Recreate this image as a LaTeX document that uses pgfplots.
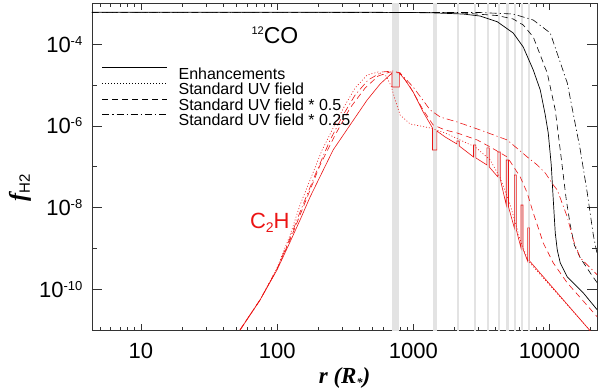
\documentclass[border=0pt]{standalone}
\usepackage{pgfplots}
\pgfplotsset{compat=1.18}
\usepackage{fontspec}
\setmainfont{Liberation Sans}
\newfontfamily\timesf{Liberation Serif}
\newcommand\ten[1]{10\raisebox{7pt}{\fontsize{13}{13}\selectfont #1}}
\definecolor{band}{gray}{0.89}
\definecolor{cred}{RGB}{235,20,20}
\pgfplotsset{
 lsolid/.style={solid},
 ldot/.style={dash pattern=on 1pt off 2pt},
 ldash/.style={dash pattern=on 6pt off 4pt},
 ldashdot/.style={dash pattern=on 7pt off 3pt on 1.2pt off 3pt},
}
\begin{document}
\begin{tikzpicture}
\begin{axis}[
 scale only axis, width=505pt, height=326.5pt,
 xmode=log, ymode=log,
 xmin=4.37, xmax=22300, ymin=1e-11, ymax=1e-3,
 xtick={10,100,1000,10000}, xticklabels={10,100,1000,10000},
 minor xtick={5,6,7,8,9,20,30,40,50,60,70,80,90,200,300,400,500,600,700,800,900,2000,3000,4000,5000,6000,7000,8000,9000,20000},
 ytick={1e-10,1e-8,1e-6,1e-4}, yticklabels={\ten{-10},\ten{-8},\ten{-6},\ten{-4}},
 minor ytick={1e-9,1e-7,1e-5},
 tick align=inside,
 major tick length=10pt, minor tick length=5pt,
 every major x tick/.append style={/pgfplots/major tick length=6.5pt},
 every minor x tick/.append style={/pgfplots/minor tick length=3.5pt},
 tick style={line width=0.6pt, black!80},
 axis line style={line width=0.6pt, black!80},
 xticklabel style={font=\fontsize{22}{22}\selectfont, inner sep=0pt, anchor=north, yshift=-12.5pt},
 yticklabel style={font=\fontsize{22}{22}\selectfont, inner sep=0pt, anchor=east, xshift=-9.5pt},
 legend image code/.code={\draw[#1] (0pt,5.5pt) -- (65pt,5.5pt);},
 legend style={at={(rel axis cs:0.0198,0.804)}, anchor=north west, draw=none, fill=none,
   inner sep=0pt, outer sep=0pt, font=\fontsize{16}{16}\selectfont, row sep=4pt,
   nodes={inner sep=0pt, text height=11.5pt, text depth=0pt},
   /tikz/every odd column/.append style={column sep=11pt}},
 legend cell align=left,
 clip mode=individual,
]
% grey bands
\addplot[fill=band, draw=none, forget plot] coordinates {(697,1e-12)(697,1e-2)(789,1e-2)(789,1e-12)};
\addplot[fill=band, draw=none, forget plot] coordinates {(1382,1e-12)(1382,1e-2)(1489,1e-2)(1489,1e-12)};
\addplot[fill=band, draw=none, forget plot] coordinates {(2089,1e-12)(2089,1e-2)(2172,1e-2)(2172,1e-12)};
\addplot[fill=band, draw=none, forget plot] coordinates {(2764,1e-12)(2764,1e-2)(2879,1e-2)(2879,1e-12)};
\addplot[fill=band, draw=none, forget plot] coordinates {(3469,1e-12)(3469,1e-2)(3606,1e-2)(3606,1e-12)};
\addplot[fill=band, draw=none, forget plot] coordinates {(4178,1e-12)(4178,1e-2)(4343,1e-2)(4343,1e-12)};
\addplot[fill=band, draw=none, forget plot] coordinates {(4807,1e-12)(4807,1e-2)(4997,1e-2)(4997,1e-12)};
\addplot[fill=band, draw=none, forget plot] coordinates {(5513,1e-12)(5513,1e-2)(5705,1e-2)(5705,1e-12)};
\addplot[fill=band, draw=none, forget plot] coordinates {(6166,1e-12)(6166,1e-2)(6380,1e-2)(6380,1e-12)};
\addplot[fill=band, draw=none, forget plot] coordinates {(6893,1e-12)(6893,1e-2)(7130,1e-2)(7130,1e-12)};
% CO curves (black)
\addplot[black, line width=0.7pt, lsolid, forget plot] coordinates {
(4.37,6.08e-4)(570,6.08e-4)(1329,5.94e-4)(2322,5.52e-4)(3096,4.93e-4)(4129,3.58e-4)(5411,1.89e-4)(6409,8.59e-5)(7592,2.35e-5)(8545,7.60e-6)(9299,1.855e-6)(9781,6.72e-7)(10290,1.106e-7)(10650,1.537e-8)(11010,2.39e-9)(11390,9.16e-10)(11980,4.40e-10)(13490,2.00e-10)(17690,8.11e-11)(22410,3.11e-11)};
\addplot[black, line width=0.6pt, ldash, forget plot] coordinates {
(4.37,6.08e-4)(1329,6.08e-4)(2322,5.84e-4)(4129,5.07e-4)(5411,4.17e-4)(6409,2.97e-4)(7592,1.51e-4)(9618,1.98e-5)(11010,2.46e-6)(11980,2.58e-7)(13270,1.537e-8)(14190,3.75e-9)(15190,1.215e-9)(16810,5.83e-10)(19910,2.50e-10)(22410,1.425e-10)};
\addplot[black, line width=0.6pt, ldashdot, forget plot] coordinates {
(4.37,6.08e-4)(3096,6.01e-4)(5411,5.52e-4)(7592,3.94e-4)(10120,1.89e-4)(13490,1.13e-5)(16810,2.58e-7)(18920,2.28e-8)(20950,2.13e-9)(22410,6.91e-10)};
% C2H curves (red)
\addplot[cred, line width=0.6pt, lsolid, forget plot] coordinates {
(53.4,1.006e-11)(74.9,5.46e-11)(99.8,2.97e-10)(124.4,1.438e-9)(147.3,4.97e-9)(174.5,1.82e-8)(257.5,2.58e-7)(343.2,1.056e-6)(457.6,4.32e-6)(570.3,1.066e-5)
(697,1.98e-5)(697,9.00e-6)(789,9.00e-6)(789,1.98e-5)
(870.6,1.34e-5)(996.6,6.79e-6)(1180,2.20e-6)(1382,8.91e-7)
(1382,2.58e-7)(1489,2.58e-7)(1489,7.52e-7)
(1712,5.36e-7)(2089,3.61e-7)(2089,4.28e-7)(2172,4.28e-7)(2172,3.23e-7)
(2764,1.737e-7)(2764,3.42e-7)(2879,3.42e-7)(2879,1.642e-7)
(3469,1.106e-7)(3469,2.89e-7)(3606,2.89e-7)(3606,9.88e-8)
(4178,5.62e-8)(4178,2.30e-7)(4343,2.30e-7)(4343,5.02e-8)
(4807,1.159e-8)(4807,1.467e-7)(4997,1.467e-7)(4997,1.035e-8)
(5513,3.17e-9)(5513,6.29e-8)(5705,6.29e-8)(5705,2.83e-9)
(6166,1.026e-9)(6166,1.159e-8)(6380,1.159e-8)(6380,9.69e-10)
(6893,4.93e-10)(6893,3.17e-9)(7130,3.17e-9)(7130,4.93e-10)
(19910,9.5e-12)};
\addplot[cred, line width=0.6pt, ldot, forget plot] coordinates {
(53.4,1.006e-11)(74.9,5.46e-11)(99.8,3.32e-10)(124.4,2.13e-9)(147.3,1.159e-8)(174.5,4.75e-8)(213.8,2.58e-7)(257.5,8.91e-7)(315.4,3.26e-6)(373.6,8.50e-6)(457.6,1.77e-5)(551.3,2.10e-5)(631.1,1.67e-5)(686.8,9.52e-6)(735.1,4.32e-6)(799.8,1.855e-6)(947.3,1.117e-6)(1329,8.91e-7)(1712,6.72e-7)(2207,4.53e-7)(2845,3.05e-7)(3667,1.467e-7)(4343,5.31e-8)(5143,1.159e-8)(6091,1.61e-9)(6975,4.93e-10)(19910,9.5e-12)};
\addplot[cred, line width=0.6pt, ldash, forget plot] coordinates {
(53.4,1.006e-11)(74.9,5.46e-11)(99.8,3.14e-10)(124.4,1.61e-9)(147.3,6.59e-9)(206.7,1.106e-7)(266.4,6.01e-7)(343.2,2.75e-6)(442.4,8.50e-6)(551.3,1.67e-5)(675.2,2.10e-5)(799.8,1.98e-5)(947.3,9.00e-6)(1180,2.46e-6)(1398,1.056e-6)(1712,7.96e-7)(2098,6.72e-7)(2943,4.53e-7)(3667,3.05e-7)(4889,1.737e-7)(6091,5.62e-8)(6857,2.28e-8)(7592,7.38e-9)(8988,1.359e-9)(10650,4.40e-10)(13490,1.425e-10)(17390,5.46e-11)(22410,2.09e-11)};
\addplot[cred, line width=0.6pt, ldashdot, forget plot] coordinates {
(53.4,1.006e-11)(74.9,5.46e-11)(99.8,3.14e-10)(124.4,1.80e-9)(147.3,7.81e-9)(189.9,6.29e-8)(244.8,4.53e-7)(305.0,1.855e-6)(373.6,5.73e-6)(465.5,1.34e-5)(589.9,2.10e-5)(710.6,2.22e-5)(799.8,1.98e-5)(996.6,9.00e-6)(1329,2.46e-6)(1574,1.657e-6)(2098,1.250e-6)(3096,7.96e-7)(4889,4.53e-7)(6857,1.737e-7)(8121,1.106e-7)(9299,7.05e-8)(10650,3.58e-8)(11390,2.70e-8)(13490,5.89e-9)(14930,1.61e-9)(16810,5.83e-10)(22410,2.24e-10)};
% legend
\addlegendimage{black, line width=0.6pt, lsolid}
\addlegendentry{Enhancements}
\addlegendimage{black, line width=0.6pt, ldot}
\addlegendentry{Standard UV field}
\addlegendimage{black, line width=0.6pt, ldash}
\addlegendentry{Standard UV field * 0.5}
\addlegendimage{black, line width=0.6pt, ldashdot}
\addlegendentry{Standard UV field * 0.25}
% labels
\node[anchor=base west, font=\fontsize{23}{23}\selectfont] at (rel axis cs:0.309,0.878) {\raisebox{8.5pt}{\fontsize{11}{11}\selectfont 12}CO};
\node[anchor=base west, text=cred, font=\fontsize{22}{22}\selectfont] at (rel axis cs:0.306,0.312) {C\raisebox{-4pt}{\fontsize{14}{14}\selectfont 2}H};
\node[rotate=90, anchor=center] at (rel axis cs:-0.1426,0.435) {{\timesf\bfseries\itshape\fontsize{24}{24}\selectfont f}\raisebox{-4pt}{\fontsize{15}{15}\selectfont H2}};
\node[anchor=center] at (rel axis cs:0.5,-0.147) {\timesf\bfseries\itshape\fontsize{23}{23}\selectfont r (R\raisebox{-3pt}{\fontsize{12}{12}\selectfont *})};
\end{axis}
\pgfresetboundingbox
\path[use as bounding box] ([shift={(-92pt,-61pt)}]current axis.south west) rectangle ([shift={(3pt,3.5pt)}]current axis.north east);
\end{tikzpicture}
\end{document}
